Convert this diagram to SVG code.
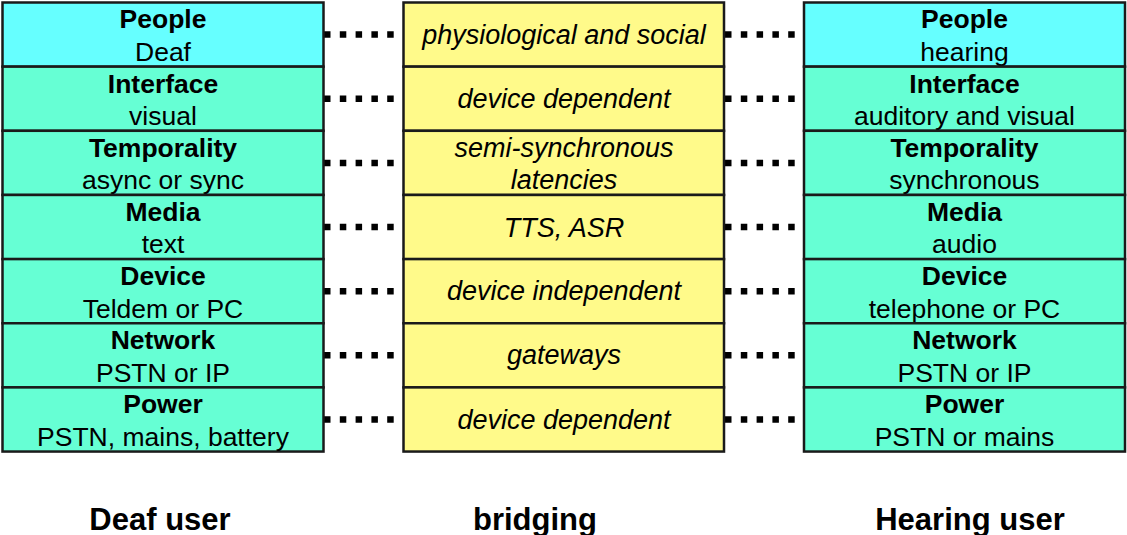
<svg xmlns="http://www.w3.org/2000/svg" width="1127" height="535" viewBox="0 0 1127 535">
<style>
.c{stroke:#1a1a1a;stroke-width:2.5}
.ppl{fill:#66FFFF}
.grn{fill:#66FFD4}
.yel{fill:#FFFA8A}
text{font-family:"Liberation Sans",Arial,sans-serif;font-size:26.5px;fill:#000;text-anchor:middle}
.b{font-weight:bold}
.i{font-style:italic;font-size:27px}
.lbl{font-size:31px;font-weight:bold}
.dot{stroke:#000;stroke-width:6.5;stroke-dasharray:6.5 9.3;fill:none}
</style>
<g id="connectors">
<path class="dot" d="M324 34.6H396M725 34.6H797M324 98.7H396M725 98.7H797M324 162.9H396M725 162.9H797M324 227H396M725 227H797M324 291.2H396M725 291.2H797M324 355.3H396M725 355.3H797M324 419.5H396M725 419.5H797"/>
</g>
<g id="deaf-people"><rect class="c ppl" x="2.5" y="2.5" width="321" height="64.15"/><text class="b" x="163" y="28.4">People</text><text x="163" y="61">Deaf</text></g>
<g id="deaf-interface"><rect class="c grn" x="2.5" y="66.65" width="321" height="64.15"/><text class="b" x="163" y="92.5">Interface</text><text x="163" y="125.1">visual</text></g>
<g id="deaf-temporality"><rect class="c grn" x="2.5" y="130.8" width="321" height="64.15"/><text class="b" x="163" y="156.7">Temporality</text><text x="163" y="189.3">async or sync</text></g>
<g id="deaf-media"><rect class="c grn" x="2.5" y="194.95" width="321" height="64.15"/><text class="b" x="163" y="220.8">Media</text><text x="163" y="253.4">text</text></g>
<g id="deaf-device"><rect class="c grn" x="2.5" y="259.1" width="321" height="64.15"/><text class="b" x="163" y="285">Device</text><text x="163" y="317.6">Teldem or PC</text></g>
<g id="deaf-network"><rect class="c grn" x="2.5" y="323.25" width="321" height="64.15"/><text class="b" x="163" y="349.1">Network</text><text x="163" y="381.7">PSTN or IP</text></g>
<g id="deaf-power"><rect class="c grn" x="2.5" y="387.4" width="321" height="64.15"/><text class="b" x="163" y="413.3">Power</text><text x="163" y="445.9">PSTN, mains, battery</text></g>

<g id="bridge-people"><rect class="c yel" x="403.5" y="2.5" width="320.5" height="64.15"/><text class="i" x="564" y="43.5">physiological and social</text></g>
<g id="bridge-interface"><rect class="c yel" x="403.5" y="66.65" width="320.5" height="64.15"/><text class="i" x="564" y="107.6">device dependent</text></g>
<g id="bridge-temporality"><rect class="c yel" x="403.5" y="130.8" width="320.5" height="64.15"/><text class="i" x="564" y="156.5">semi-synchronous</text><text class="i" x="564" y="189">latencies</text></g>
<g id="bridge-media"><rect class="c yel" x="403.5" y="194.95" width="320.5" height="64.15"/><text class="i" x="564" y="237">TTS, ASR</text></g>
<g id="bridge-device"><rect class="c yel" x="403.5" y="259.1" width="320.5" height="64.15"/><text class="i" x="564" y="300.2">device independent</text></g>
<g id="bridge-network"><rect class="c yel" x="403.5" y="323.25" width="320.5" height="64.15"/><text class="i" x="564" y="364.3">gateways</text></g>
<g id="bridge-power"><rect class="c yel" x="403.5" y="387.4" width="320.5" height="64.15"/><text class="i" x="564" y="428.5">device dependent</text></g>

<g id="hearing-people"><rect class="c ppl" x="804" y="2.5" width="321" height="64.15"/><text class="b" x="964.5" y="28.4">People</text><text x="964.5" y="61">hearing</text></g>
<g id="hearing-interface"><rect class="c grn" x="804" y="66.65" width="321" height="64.15"/><text class="b" x="964.5" y="92.5">Interface</text><text x="964.5" y="125.1">auditory and visual</text></g>
<g id="hearing-temporality"><rect class="c grn" x="804" y="130.8" width="321" height="64.15"/><text class="b" x="964.5" y="156.7">Temporality</text><text x="964.5" y="189.3">synchronous</text></g>
<g id="hearing-media"><rect class="c grn" x="804" y="194.95" width="321" height="64.15"/><text class="b" x="964.5" y="220.8">Media</text><text x="964.5" y="253.4">audio</text></g>
<g id="hearing-device"><rect class="c grn" x="804" y="259.1" width="321" height="64.15"/><text class="b" x="964.5" y="285">Device</text><text x="964.5" y="317.6">telephone or PC</text></g>
<g id="hearing-network"><rect class="c grn" x="804" y="323.25" width="321" height="64.15"/><text class="b" x="964.5" y="349.1">Network</text><text x="964.5" y="381.7">PSTN or IP</text></g>
<g id="hearing-power"><rect class="c grn" x="804" y="387.4" width="321" height="64.15"/><text class="b" x="964.5" y="413.3">Power</text><text x="964.5" y="445.9">PSTN or mains</text></g>

<g id="labels">
<text class="lbl" x="160" y="530">Deaf user</text>
<text class="lbl" x="535" y="530">bridging</text>
<text class="lbl" x="970" y="530">Hearing user</text>
</g>
</svg>
